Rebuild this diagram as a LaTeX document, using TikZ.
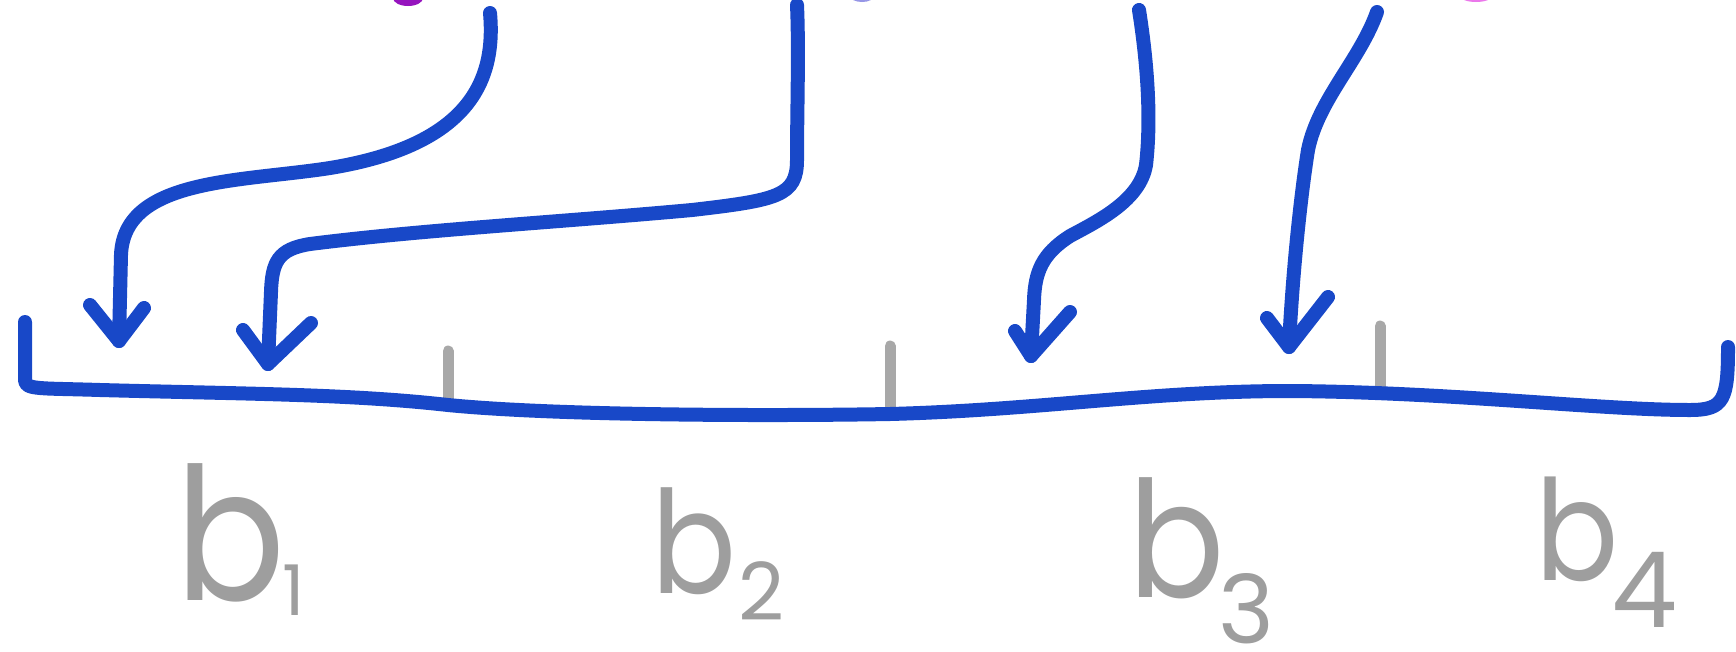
\documentclass[tikz,border=0pt]{standalone}
\usepackage{fontspec}
\setmainfont{Poppins}
\definecolor{ink}{RGB}{24,72,200}
\definecolor{labgray}{RGB}{158,158,158}
\definecolor{tickgray}{RGB}{168,168,168}
\definecolor{mag1}{RGB}{150,20,190}
\definecolor{mag2}{RGB}{235,120,235}
\definecolor{mag3}{RGB}{150,150,230}
% #1 size of b, #2 shift of digit, #3 raise of digit, #4 size of digit, #5 digit
\newcommand\mylabel[5]{\fontsize{#1}{#1}\selectfont\makebox[#2pt][l]{\scalebox{0.88}[1]{b}}\raisebox{#3pt}{\fontsize{#4}{#4}\selectfont #5}}
\begin{document}
\begin{tikzpicture}[x=1pt,y=-1pt,line cap=round,line join=round,
  inkline/.style={draw=ink,line width=14pt},
  tickmark/.style={draw=tickgray,line width=11pt},
  lbl/.style={text=labgray,inner sep=2pt,anchor=base west}]
\useasboundingbox (0,0) rectangle (1736,651);
% cut-off marks at the top edge
\fill[mag1] (408,-2) ellipse [x radius=15pt, y radius=8pt];
\fill[mag3] (862,-4) ellipse [x radius=12pt, y radius=6pt];
\fill[mag2] (1476,-4) ellipse [x radius=16pt, y radius=6pt];
% coordinates
\coordinate (L0) at (25,322);
\coordinate (R0) at (1728,347);
\coordinate (s1) at (490,13);  \coordinate (t1) at (119,341);
\coordinate (s2) at (797,5);   \coordinate (t2) at (268,364);
\coordinate (s3) at (1139,10); \coordinate (t3) at (1031,356);
\coordinate (s4) at (1377,12); \coordinate (t4) at (1289,347);
% ticks
\draw[tickmark] (448,351) -- (448,404);
\draw[tickmark] (890,346) -- (890,410);
\draw[tickmark] (1380,326) -- (1380,390);
% base line
\draw[inkline] (L0) -- (25,380) .. controls (25,390) and (40,388) .. (100,390)
  .. controls (250,394) and (350,394) .. (448,405)
  .. controls (560,416) and (780,416) .. (890,414)
  .. controls (1040,410) and (1150,391) .. (1290,391)
  .. controls (1450,392) and (1600,410) .. (1690,410)
  .. controls (1724,410) and (1728,400) .. (R0);
% arrows
\draw[inkline] (s1) .. controls (496,80) and (470,145) .. (330,168)
  .. controls (240,182) and (124,178) .. (121,255) -- (t1);
\draw[inkline] (90,305) -- (t1) -- (144,308);
\draw[inkline] (s2) .. controls (799,50) and (797,110) .. (797,160)
  .. controls (797,196) and (778,200) .. (692,210)
  .. controls (560,222) and (420,230) .. (310,244)
  .. controls (278,249) and (272,262) .. (271,292) -- (t2);
\draw[inkline] (243,330) -- (t2) -- (311,323);
\draw[inkline] (s3) .. controls (1150,80) and (1150,130) .. (1146,165)
  .. controls (1140,200) and (1100,220) .. (1070,236)
  .. controls (1042,254) and (1035,272) .. (1034,300) -- (t3);
\draw[inkline] (1015,331) -- (t3) -- (1070,312);
\draw[inkline] (s4) .. controls (1360,60) and (1318,100) .. (1308,150)
  .. controls (1300,200) and (1292,280) .. (t4);
\draw[inkline] (1267,318) -- (t4) -- (1328,297);
% labels
\node[lbl] (b1) at (173,600) {\mylabel{185}{107}{-15}{70}{1}};
\node[lbl] (b2) at (649,593) {\mylabel{143}{87}{-27}{80}{2}};
\node[lbl] (b3) at (1126,597) {\mylabel{162}{90}{-46}{95}{3}};
\node[lbl] (b4) at (1533,580) {\mylabel{140}{76}{-47}{105}{4}};
\end{tikzpicture}
\end{document}
